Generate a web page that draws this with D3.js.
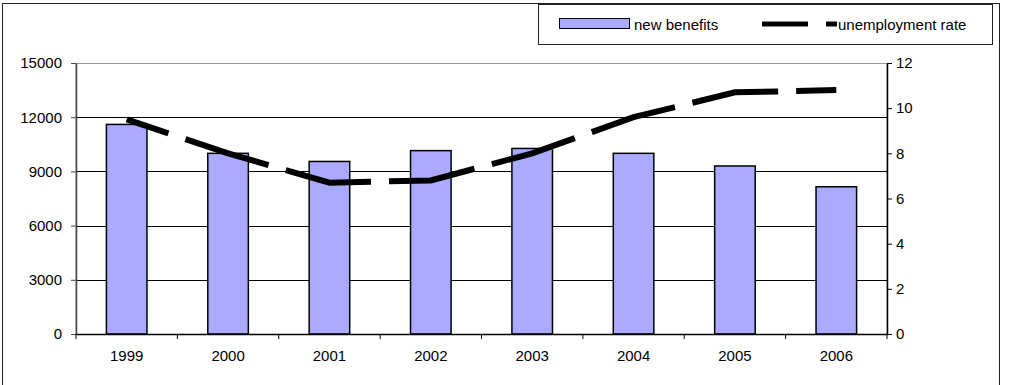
<!DOCTYPE html>
<html lang="en">
<head>
<meta charset="UTF-8">
<title>New benefits and unemployment rate</title>
<style>
  * { margin: 0; padding: 0; box-sizing: border-box; }
  body { background: #fff; overflow: hidden; }
  svg { display: block; font-family: 'Liberation Sans', Arial, sans-serif; }
</style>
</head>
<body>
<svg width="1011" height="385"></svg>
<script src="https://d3js.org/d3.v7.min.js"></script>
<script>
// Data
const years = ['1999', '2000', '2001', '2002', '2003', '2004', '2005', '2006'];
const newBenefits = [11600, 10000, 9550, 10150, 10270, 10000, 9300, 8150];
const unemploymentRate = [9.5, 8.0, 6.7, 6.8, 8.0, 9.6, 10.7, 10.8];
const leftTicks = [0, 3000, 6000, 9000, 12000, 15000];
const rightTicks = [0, 2, 4, 6, 8, 10, 12];

const FONT = "'Liberation Sans', Arial, sans-serif";
const svg = d3.select('svg');

// plot area
const plot = { left: 76, right: 887, top: 63, bottom: 334 };

const x = d3.scaleBand().domain(years).range([plot.left, plot.right]);
const yLeft = d3.scaleLinear().domain([0, 15000]).range([plot.bottom, plot.top]);
const yRight = d3.scaleLinear().domain([0, 12]).range([plot.bottom, plot.top]);

// outer chart frame (bottom edge falls off the picture)
svg.append('rect')
  .attr('x', 2.5).attr('y', 3.5)
  .attr('width', 997).attr('height', 400)
  .attr('fill', 'none').attr('stroke', '#222').attr('stroke-width', 1);

// plot area border (grey)
svg.append('rect')
  .attr('x', plot.left).attr('y', plot.top + 0.5)
  .attr('width', plot.right - plot.left).attr('height', plot.bottom - plot.top)
  .attr('fill', 'none').attr('stroke', '#999').attr('stroke-width', 1);

// gridlines
svg.append('g').selectAll('line')
  .data(leftTicks.filter(t => t > 0 && t < 15000)).join('line')
  .attr('x1', plot.left).attr('x2', plot.right)
  .attr('y1', d => Math.round(yLeft(d)) + 0.5).attr('y2', d => Math.round(yLeft(d)) + 0.5)
  .attr('stroke', '#000').attr('stroke-width', 1);

// bars
const barW = x.bandwidth() * 0.4;
svg.append('g').selectAll('rect')
  .data(years.map((y, i) => ({ year: y, value: newBenefits[i] }))).join('rect')
  .attr('x', d => x(d.year) + (x.bandwidth() - barW) / 2)
  .attr('y', d => yLeft(d.value))
  .attr('width', barW)
  .attr('height', d => plot.bottom - yLeft(d.value))
  .attr('fill', '#aaaaff')
  .attr('stroke', '#000').attr('stroke-width', 1.5);

// left axis
const leftAxis = svg.append('g')
  .attr('transform', `translate(${plot.left},0)`)
  .call(d3.axisLeft(yLeft).tickValues(leftTicks).tickFormat(d3.format('d'))
    .tickSize(5).tickPadding(9).tickSizeOuter(0))
  .attr('font-size', 15).attr('font-family', FONT);
leftAxis.select('.domain').attr('stroke', '#444').attr('stroke-width', 1.5);
leftAxis.selectAll('.tick line').attr('stroke', '#444');

// right axis
const rightAxis = svg.append('g')
  .attr('transform', `translate(${plot.right},0)`)
  .call(d3.axisRight(yRight).tickValues(rightTicks).tickSize(5).tickPadding(4).tickSizeOuter(0))
  .attr('font-size', 15).attr('font-family', FONT);
rightAxis.select('.domain').attr('stroke', '#000').attr('stroke-width', 1.5);
rightAxis.selectAll('.tick line').attr('stroke', '#000');

// bottom axis: ticks sit on the category boundaries
const bottomAxis = svg.append('g')
  .attr('transform', `translate(0,${plot.bottom})`)
  .call(d3.axisBottom(x).tickSize(0).tickPadding(16))
  .attr('font-size', 15).attr('font-family', FONT);
bottomAxis.select('.domain').attr('stroke', '#000').attr('stroke-width', 1.5);
bottomAxis.selectAll('.tick text').attr('dy', '0.71em');
bottomAxis.selectAll('line.bound')
  .data(years.map(y => x(y)).concat([plot.right])).join('line')
  .attr('class', 'bound')
  .attr('x1', d => d).attr('x2', d => d)
  .attr('y1', 0).attr('y2', 5)
  .attr('stroke', '#000');

// unemployment line
const line = d3.line()
  .x((d, i) => x(years[i]) + x.bandwidth() / 2)
  .y(d => yRight(d));

svg.append('path')
  .datum(unemploymentRate)
  .attr('d', line)
  .attr('fill', 'none')
  .attr('stroke', '#000')
  .attr('stroke-width', 6)
  .attr('stroke-dasharray', '87,18')
  .attr('stroke-dashoffset', 43);

// legend
const legend = svg.append('g').attr('font-family', FONT).attr('font-size', 15);
legend.append('rect')
  .attr('x', 538.5).attr('y', 4.5).attr('width', 454).attr('height', 40)
  .attr('fill', '#fff').attr('stroke', '#222');
legend.append('rect')
  .attr('x', 559.5).attr('y', 18.5).attr('width', 70).attr('height', 10)
  .attr('fill', '#aaaaff').attr('stroke', '#000');
legend.append('text')
  .attr('x', 634).attr('y', 29.5)
  .text('new benefits');
legend.append('line')
  .attr('x1', 762).attr('x2', 837).attr('y1', 24).attr('y2', 24)
  .attr('stroke', '#000').attr('stroke-width', 5)
  .attr('stroke-dasharray', '46,18');
legend.append('text')
  .attr('x', 838).attr('y', 29.5)
  .text('unemployment rate');
</script>
</body>
</html>
